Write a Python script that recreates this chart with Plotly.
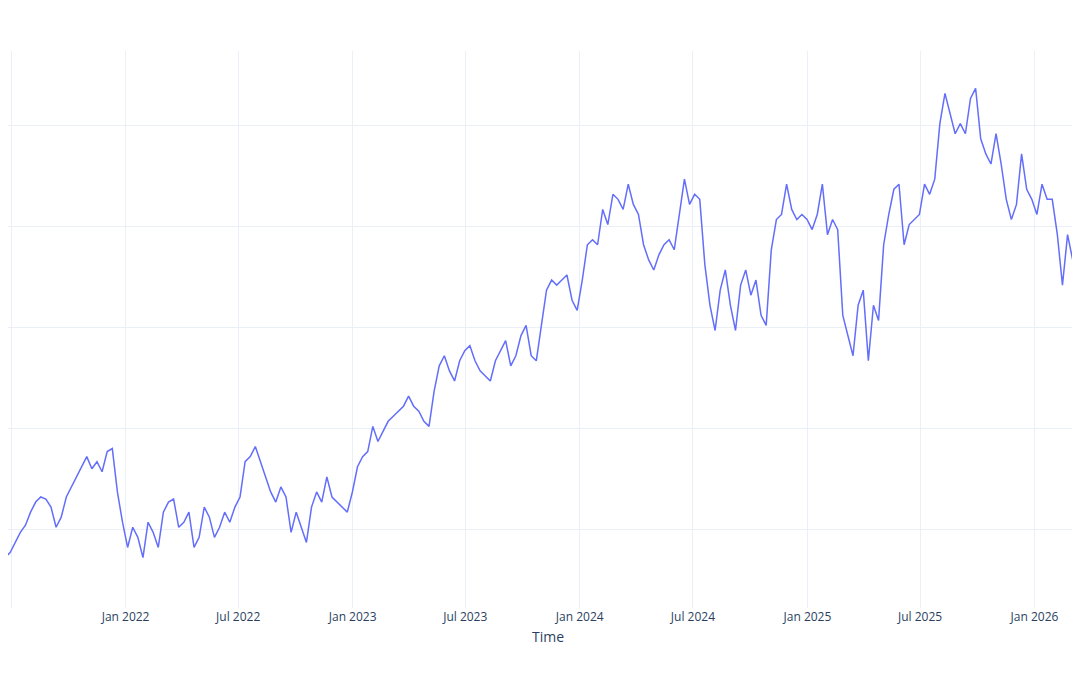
import pandas as pd
import plotly.graph_objects as go

# values, roughly every 8 days
price = [15.9,17.2,17.7,18.7,19.7,20.4,21.7,22.7,23.2,23.0,22.2,20.2,21.2,23.2,24.2,25.2,26.2,27.2,26.0,26.7,25.7,27.7,28.0,23.7,20.7,18.2,20.2,19.2,17.2,20.7,
         19.7,18.2,21.7,22.7,23.0,20.2,20.7,21.7,18.2,19.2,22.2,21.2,19.2,20.2,21.7,20.7,22.2,23.2,26.7,27.2,28.2,26.7,25.2,23.7,22.7,24.2,23.2,19.7,21.7,20.2,
         18.7,22.2,23.7,22.7,25.2,23.2,22.7,22.2,21.7,23.7,26.2,27.2,27.7,30.2,28.7,29.7,30.7,31.2,31.7,32.2,33.2,32.2,31.7,30.7,30.2,33.7,36.2,37.2,35.7,34.7,
         36.7,37.7,38.2,36.7,35.7,35.2,34.7,36.7,37.7,38.7,36.2,37.2,39.2,40.2,37.2,36.7,40.2,43.7,44.7,44.2,44.7,45.2,42.7,41.7,44.7,48.2,48.7,48.2,51.7,50.2,
         53.2,52.7,51.7,54.2,52.2,51.2,48.2,46.7,45.7,47.2,48.2,48.7,47.7,51.2,54.7,52.2,53.2,52.7,46.2,42.2,39.7,43.7,45.7,42.2,39.7,44.2,45.7,43.2,44.7,41.2,
         40.2,47.7,50.7,51.2,54.2,51.7,50.7,51.2,50.7,49.7,51.2,54.2,49.2,50.7,49.7,41.2,39.2,37.2,42.2,43.7,36.7,42.2,40.7,48.2,51.2,53.7,54.2,48.2,50.2,50.7,
         51.2,54.2,53.2,54.7,60.2,63.2,61.2,59.2,60.2,59.2,62.7,63.7,58.7,57.2,56.2,59.2,56.2,52.7,50.7,52.2,57.2,53.7,52.7,51.2,54.2,52.7,52.7,49.2,44.2,49.2,
         46.7,50.7,48.2,47.2]
dates = pd.date_range("2021-06-13", "2026-03-28", periods=len(price))

fig = go.Figure(go.Scatter(x=dates, y=price, mode="lines", line=dict(color="#636efa", width=1.5)))
fig.update_layout(
    template="plotly_white",
    width=1080, height=675,
    margin=dict(l=0, r=0, t=43, b=75),
    showlegend=False,
)
fig.update_xaxes(range=["2021-06-26", "2026-03-28"], dtick="M6", tickformat="%b %Y", automargin=False,
                 title=dict(text="Time", standoff=8))
fig.update_yaxes(range=[12.2, 67.4], dtick=10, showticklabels=False, zeroline=False)
fig.write_html("out.html")
